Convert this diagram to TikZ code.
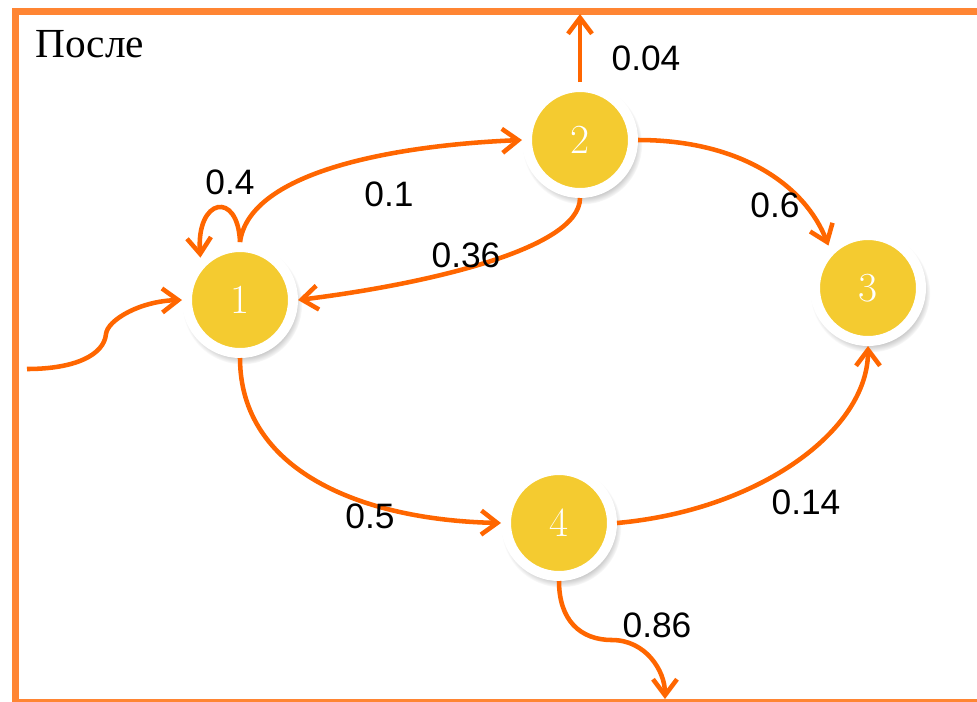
\documentclass[tikz,border=0pt]{standalone}
\usepackage{fontspec}
\newfontfamily\labelfont{Liberation Sans}
\newfontfamily\titlefont{Liberation Serif}
\usepackage{tikz}
\usetikzlibrary{arrows.meta,shadows,fadings}
\definecolor{flowline}{HTML}{FF6600}
\definecolor{framecol}{HTML}{FF8533}
\definecolor{stateyellow}{HTML}{F4CB30}

\begin{document}
\begin{tikzpicture}[x=0.75pt, y=-0.75pt, every node/.style={inner sep=0pt},
  state/.style={circle, fill=stateyellow, draw=white, line width=7.5pt, minimum size=79.5pt, text=white, font=\fontsize{31}{31}\selectfont, circular drop shadow={shadow scale=1.13, shadow xshift=1.5pt, shadow yshift=-3pt, opacity=0.5}},
  lbl/.style={font=\labelfont\fontsize{26.5}{30}\selectfont},
  arr/.style={draw=flowline, line width=3.4pt, -{Straight Barb[length=12pt,width=18pt]}}]
\useasboundingbox (0,0) rectangle (977,701);
\clip (0,0) rectangle (977,701);
\draw[framecol, line width=5.25pt] (15.5,11.5) rectangle (1000,702.5);
\node[anchor=base west, font=\titlefont\fontsize{31}{31}\selectfont] (title) at (35,57) {После};
% states
\node[state] (n1) at (240,300) {1};
\node[state] (n2) at (580,140) {2};
\node[state] (n3) at (868,288) {3};
\node[state] (n4) at (559,523) {4};
\coordinate (in1) at (27,369);
\coordinate (out2) at (580,14);
\coordinate (out4) at (665,699);
% transitions
\draw[arr] (in1) .. controls (75,369) and (104,355) .. (106,334) .. controls (107.5,320) and (140,301) .. (n1.west);
\draw[arr] (n1.north) .. controls (238,190) and (196,198) .. (n1.133);
\draw[arr] (n1.north) .. controls (250,170) and (400,145) .. (n2.west);
\draw[arr] (n2.south) .. controls (580,250) and (420,285) .. (n1.east);
\draw[arr] (n2.east) .. controls (740,140) and (805,185) .. (n3.133);
\draw[arr] (n2.north) -- (out2);
\draw[arr] (n1.south) .. controls (240,470) and (360,520) .. (n4.west);
\draw[arr] (n4.east) .. controls (760,510) and (868,430) .. (n3.south);
\draw[arr] (n4.south) .. controls (559,620) and (580,640) .. (612,640) .. controls (645,640) and (665,670) .. (out4);
% probabilities
\node[lbl] (p11) at (230,182) {0.4};
\node[lbl] (p12) at (389,194) {0.1};
\node[lbl] (p21) at (466,255) {0.36};
\node[lbl] (p2out) at (646,58) {0.04};
\node[lbl] (p23) at (775,205) {0.6};
\node[lbl] (p14) at (370,516) {0.5};
\node[lbl] (p43) at (806,502) {0.14};
\node[lbl] (p4out) at (657,625) {0.86};
\end{tikzpicture}
\end{document}
